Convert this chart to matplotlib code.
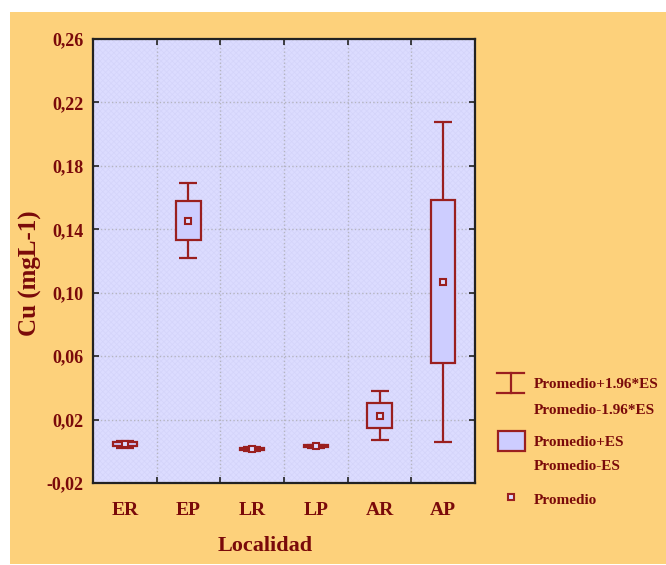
import numpy as np
import matplotlib
matplotlib.use('Agg')
import matplotlib.pyplot as plt
from matplotlib.patches import Rectangle
from matplotlib.lines import Line2D

# datos de Cu por localidad
localidades = ['ER', 'EP', 'LR', 'LP', 'AR', 'AP']
promedio = [0.0045, 0.1455, 0.0015, 0.0031, 0.0225, 0.107]
es = [0.0011, 0.0122, 0.0006, 0.0006, 0.0080, 0.0515]
y_ticks = [-0.02, 0.02, 0.06, 0.10, 0.14, 0.18, 0.22, 0.26]

rojo = '#9A1F1F'
texto = '#7A0A0A'
naranja = '#FDD17B'
lila = '#DCDCFF'
caja = '#CDCDFF'

plt.rcParams['font.family'] = ['Liberation Serif', 'DejaVu Serif']
plt.rcParams['font.weight'] = 'bold'
plt.rcParams['hatch.linewidth'] = 0.5

fig = plt.figure(figsize=(6.66, 5.65), dpi=100)
fig.patch.set_facecolor('white')
W, H = 666, 565
# fondo naranja
fig.patches.append(Rectangle((10 / W, 1 / H), 656 / W, 552 / H,
                             transform=fig.transFigure, facecolor=naranja,
                             edgecolor='none', zorder=-5))

ax = fig.add_axes([93 / W, 1 - 483 / H, 382 / W, 444 / H])
ax.set_zorder(1)
ax.set_facecolor(lila)
# trama fina del fondo
ax.add_patch(Rectangle((0, 0), 1, 1, transform=ax.transAxes, facecolor='none',
                       edgecolor='#D4D4FA', hatch='x' * 6, lw=0, zorder=0))

x = np.arange(len(localidades))
prom = np.array(promedio)
e = np.array(es)

# bigotes +-1.96*ES
ax.errorbar(x, prom, yerr=1.96 * e, fmt='none', ecolor=rojo, elinewidth=1.6,
            capsize=6.4, capthick=1.6, zorder=2)
# cajas +-ES
ax.bar(x, 2 * e, bottom=prom - e, width=0.38, color=caja, edgecolor=rojo,
       linewidth=1.6, zorder=3)
# promedio
ax.plot(x, prom, linestyle='none', marker='s', markersize=5, mfc=lila,
        mec=rojo, mew=1.5, zorder=4)

ax.set_xlim(-0.5, 5.5)
ax.set_ylim(-0.02, 0.26)
ax.set_xticks(x + 0.5)
ax.set_xticks(x, minor=True)
ax.set_xticklabels([])
ax.set_xticklabels(localidades, minor=True)
ax.set_yticks(y_ticks)
ax.set_yticklabels([f'{v:.2f}'.replace('.', ',') for v in y_ticks])

ax.tick_params(which='major', direction='in', length=4, width=1.2,
               top=True, right=True, color='#222222',
               labelsize=13, labelcolor=texto, pad=7)
ax.tick_params(which='minor', axis='x', length=0, labelsize=14,
               labelcolor=texto, pad=14)
ax.grid(True, which='major', color='#B4B4C0', linestyle=':', linewidth=1.0)
ax.set_axisbelow(True)
for s in ax.spines.values():
    s.set_linewidth(1.6)
    s.set_color('#222222')

fig.text(265 / W, 1 - 546 / H, 'Localidad', ha='center', va='center',
         fontsize=16, color=texto)
fig.text(30 / W, 1 - 273 / H, 'Cu (mgL-1)', ha='center', va='center',
         rotation=90, fontsize=18, color=texto)

# leyenda
fig.add_artist(Line2D([497 / W, 524 / W], [1 - 373 / H] * 2, color=rojo, lw=1.6))
fig.add_artist(Line2D([497 / W, 524 / W], [1 - 393 / H] * 2, color=rojo, lw=1.6))
fig.add_artist(Line2D([510.5 / W] * 2, [1 - 373 / H, 1 - 393 / H], color=rojo, lw=1.6))
fig.add_artist(Rectangle((498 / W, 1 - 451 / H), 27 / W, 20 / H,
                         transform=fig.transFigure, facecolor=caja,
                         edgecolor=rojo, lw=1.6))
fig.add_artist(Line2D([510.5 / W], [1 - 497 / H], linestyle='none', marker='s',
                      markersize=5, mfc=lila, mec=rojo, mew=1.5))
leyenda = [('Promedio+1.96*ES', 385), ('Promedio-1.96*ES', 410),
           ('Promedio+ES', 442), ('Promedio-ES', 467), ('Promedio', 500)]
for t, yy in leyenda:
    fig.text(534 / W, 1 - yy / H, t, ha='left', va='center', fontsize=11,
             color=texto)

fig.savefig('out.png', dpi=100, facecolor=fig.get_facecolor())
